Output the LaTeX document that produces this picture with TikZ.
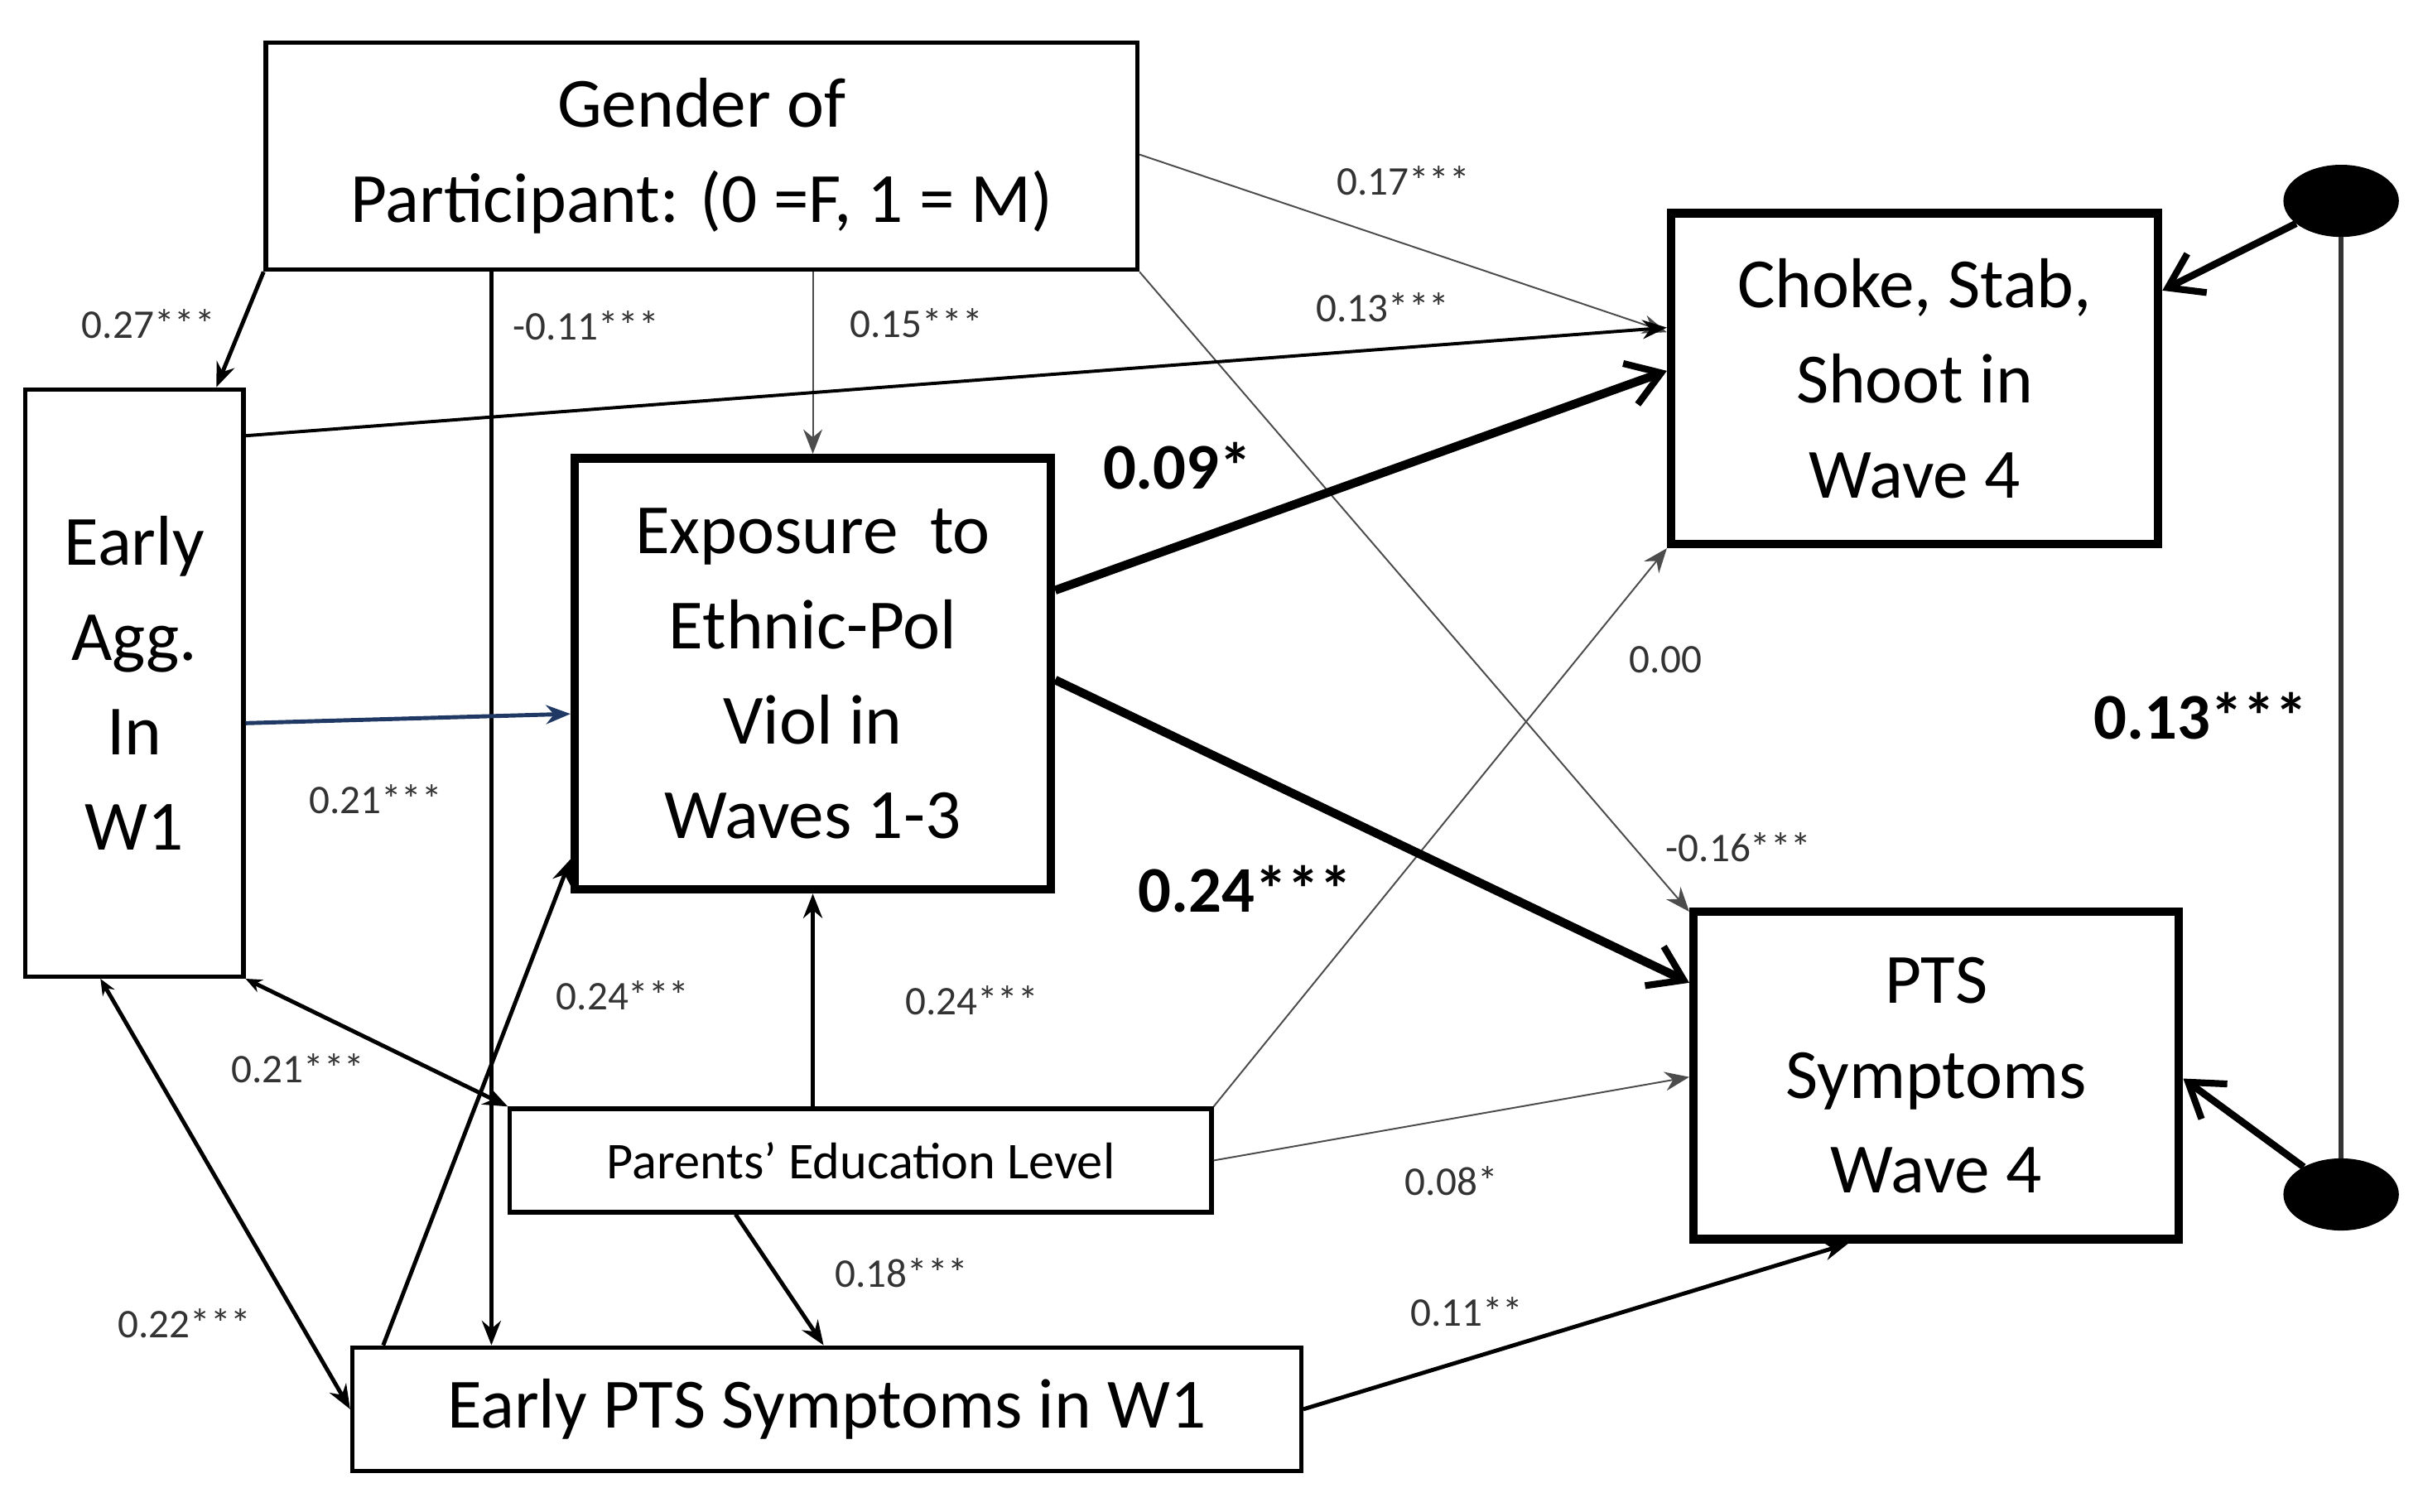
\documentclass[tikz,border=0pt]{standalone}
\usepackage{fontspec}
\setmainfont{Carlito}
\usetikzlibrary{arrows.meta,shapes.geometric}

\tikzset{
  box/.style={draw,line width=1.6pt,align=center,inner sep=0pt,font=\fontsize{26}{35}\selectfont},
  bigbox/.style={box,line width=3.2pt},
  path/.style={line width=1.5pt,-{Stealth[length=9pt,width=7pt]}},
  thin path/.style={path,line width=0.6pt,draw=black!70},
  bold path/.style={line width=3.2pt,-{Straight Barb[length=12pt,width=16pt,line width=2.5pt]}},
  both/.style={line width=1.5pt,{Stealth[length=6pt,width=5pt]}-{Stealth[length=9pt,width=7pt]}},
  coef/.style={font=\fontsize{15}{17}\selectfont,text=black!80},
  big coef/.style={font=\bfseries\fontsize{24}{28}\selectfont}
}

\begin{document}
\begin{tikzpicture}[x=0.02cm,y=-0.02cm]
    \useasboundingbox (0,0) rectangle (1568,978);
    % variables
    \node[box,minimum width=564*0.02cm,minimum height=147*0.02cm] (gender) at (454,101) {Gender of\\Participant: (0 =F, 1 = M)};
    \node[box,minimum width=141*0.02cm,minimum height=380*0.02cm] (agg) at (87,442) {Early\\Agg.\\In\\W1};
    \node[bigbox,minimum width=308*0.02cm,minimum height=279*0.02cm] (expo) at (526,436) {Exposure~ to\\Ethnic-Pol\\Viol in\\Waves 1-3};
    \node[bigbox,minimum width=315*0.02cm,minimum height=214*0.02cm] (choke) at (1239,245) {Choke, Stab,\\Shoot in\\Wave 4};
    \node[bigbox,minimum width=314*0.02cm,minimum height=212*0.02cm] (pts) at (1253,696) {PTS\\Symptoms\\Wave 4};
    \node[box,font=\fontsize{19}{22}\selectfont,minimum width=454*0.02cm,minimum height=67*0.02cm] (parents) at (557,751) {Parents' Education Level};
    \node[box,minimum width=614*0.02cm,minimum height=80*0.02cm] (eptsd) at (535,912) {Early PTS Symptoms in W1};
    % residual terms
    \node[ellipse,fill=black,draw,minimum width=74*0.02cm,minimum height=46*0.02cm] (e1) at (1515,130) {};
    \node[ellipse,fill=black,draw,minimum width=74*0.02cm,minimum height=46*0.02cm] (e2) at (1515,773) {};
    \draw[line width=2pt,draw=black!80] (e1) -- (e2) node[pos=0.52,left=8pt,big coef] {0.13***};
    \draw[bold path,line width=2.6pt] (e1) -- (choke.east |- 0,188);
    \draw[bold path,line width=2.6pt] (e2) -- (pts.east |- 0,698);
    % paths from gender
    \draw[path] (gender.south west) -- (agg.north east -| 140,0) node[coef,pos=0.45,left=6pt] {0.27***};
    \draw[path] (gender.south -| 318,0) -- (eptsd.north -| 318,0) node[coef,pos=0.05,right=4pt] {-0.11***};
    \draw[thin path] (gender.south -| 526,0) -- (expo.north) node[coef,pos=0.28,right=10pt] {0.15***};
    \draw[thin path] (gender.east |- 0,100) -- (choke.west |- 0,215) node[coef,pos=0.5,above=14pt] {0.17***};
    \draw[thin path] (gender.south east) -- (pts.north west |- 0,590) node[coef,pos=0.9,right=8pt] {-0.16***};
    % paths from early aggression
    \draw[path,line width=1.2pt] (agg.east |- 0,282) -- (choke.west |- 0,212) node[coef,pos=0.8,above=6pt] {0.13***};
    \draw[path,draw={rgb,255:red,31;green,56;blue,100}] (agg.east |- 0,468) -- (expo.west |- 0,462) node[coef,pos=0.4,below=20pt] {0.21***};
    \draw[both] (agg.south east) -- (parents.north west) node[coef,pos=0.2,below=14pt] {0.21***};
    \draw[both] (agg.south -| 65,0) -- (eptsd.west) node[coef,pos=0.8,left=14pt] {0.22***};
    % paths from early PTS and parents
    \draw[path] (eptsd.north -| 248,0) -- (expo.west |- 0,556) node[coef,pos=0.72,right=10pt] {0.24***};
    \draw[path] (parents.north -| 526,0) -- (expo.south) node[coef,pos=0.5,right=30pt] {0.24***};
    \draw[thin path] (parents.north east) -- (choke.south west) node[coef,pos=0.8,right=16pt] {0.00};
    \draw[thin path] (parents.east) -- (pts.west |- 0,697) node[coef,pos=0.5,below=14pt] {0.08*};
    \draw[path] (parents.south -| 476,0) -- (eptsd.north -| 533,0) node[coef,pos=0.45,right=18pt] {0.18***};
    \draw[path] (eptsd.east) -- (pts.south -| 1196,0) node[coef,pos=0.3,above=8pt] {0.11**};
    % main effects
    \draw[bold path] (expo.east |- 0,382) -- (choke.west |- 0,240) node[big coef,pos=0.2,above=16pt] {0.09*};
    \draw[bold path] (expo.east |- 0,440) -- (pts.west |- 0,636) node[big coef,pos=0.3,below=30pt] {0.24***};
\end{tikzpicture}
\end{document}
